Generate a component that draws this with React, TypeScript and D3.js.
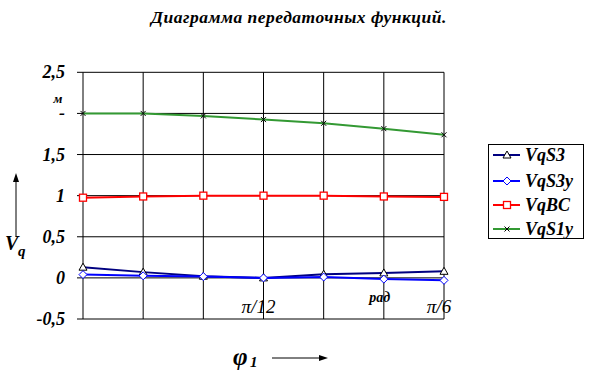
import React from "react";
import * as d3 from "d3";

const categories = [0, 1, 2, 3, 4, 5, 6];
const seriesNames = ["VqS3", "VqS3y", "VqBC", "VqS1y"];
const vqS3 = [0.13, 0.07, 0.02, 0.0, 0.045, 0.06, 0.08];
const vqS3y = [0.04, 0.025, 0.016, 0.0, 0.01, -0.015, -0.03];
const vqBC = [0.975, 0.99, 1.0, 1.0, 1.0, 0.99, 0.985];
const vqS1y = [2.0, 2.0, 1.97, 1.925, 1.88, 1.815, 1.74];
const yTicks = [-0.5, 0, 0.5, 1, 1.5, 2, 2.5];
const yTickLabels = ["-0,5", "0", "0,5", "1", "1,5", "-", "2,5"];
const xTickLabels = [
  { cat: 3, text: "π/12" },
  { cat: 5, text: "рад" },
  { cat: 6, text: "π/6" },
];

const W = 602;
const H = 373;
const left = 83;
const right = 444;
const top = 72.3;
const bottom = 319;

const fnt = (size: number, weight: string = "bold", ls: number = 0): React.CSSProperties => ({
  fontFamily: "Liberation Serif",
  fontWeight: weight as any,
  fontStyle: "italic",
  fontSize: size,
  letterSpacing: ls,
});

type Marker = "tri" | "dia" | "sq" | "x";
const series = [
  { name: seriesNames[0], values: vqS3, color: "#000080", marker: "tri" as Marker },
  { name: seriesNames[1], values: vqS3y, color: "#0000FF", marker: "dia" as Marker },
  { name: seriesNames[2], values: vqBC, color: "#FF0000", marker: "sq" as Marker },
  { name: seriesNames[3], values: vqS1y, color: "#339933", marker: "x" as Marker },
];

function MarkerShape({ type, x, y, color }: { type: Marker; x: number; y: number; color: string }) {
  if (type === "tri") {
    return <path d={`M${x},${y - 4}L${x + 4},${y + 3}L${x - 4},${y + 3}Z`} fill="#fff" stroke="#000" strokeWidth={1} />;
  }
  if (type === "dia") {
    return <path d={`M${x},${y - 4}L${x + 4},${y}L${x},${y + 4}L${x - 4},${y}Z`} fill="#fff" stroke={color} strokeWidth={1} />;
  }
  if (type === "sq") {
    return <rect x={x - 3.5} y={y - 3.5} width={7} height={7} fill="#fff" stroke={color} strokeWidth={1.3} />;
  }
  return (
    <g stroke="#000" strokeWidth={1}>
      <line x1={x - 2.5} y1={y - 2.5} x2={x + 2.5} y2={y + 2.5} />
      <line x1={x - 2.5} y1={y + 2.5} x2={x + 2.5} y2={y - 2.5} />
    </g>
  );
}

export default function App() {
  const x = d3.scalePoint<number>().domain(categories).range([left, right]);
  const y = d3.scaleLinear().domain([-0.5, 2.5]).range([bottom, top]);
  const line = (vals: number[]) =>
    d3.line<number>().x((_, i) => x(categories[i])!).y((v) => y(v))(vals) || "";

  const legendY = [155, 181, 205, 229];

  return (
    <svg width={W} height={H} style={{ position: "absolute", left: 0, top: 0, background: "#fff" }}>
      <rect width={W} height={H} fill="#fff" />
      <text x={299} y={23} textAnchor="middle" style={fnt(17.5, "bold", 0.5)}>
        Диаграмма  передаточных функций.
      </text>
      {yTicks.map((t) => (
        <line key={"h" + t} x1={left - 6} x2={right} y1={y(t)} y2={y(t)} stroke="#000" strokeWidth={1} />
      ))}
      {categories.map((c) => (
        <line key={"v" + c} x1={x(c)} x2={x(c)} y1={top} y2={bottom} stroke="#000" strokeWidth={1} />
      ))}
      {yTicks.map((t, i) => (
        <text key={"yl" + t} x={65} y={y(t) + 6} textAnchor="end" style={fnt(18)}>
          {yTickLabels[i]}
        </text>
      ))}
      <text x={58} y={y(2) - 10} textAnchor="middle" style={fnt(13)}>
        м
      </text>
      {xTickLabels.map((d) => (
        <text
          key={d.text}
          x={x(d.cat)! - (d.text === "π/6" ? 5 : d.text === "рад" ? 4 : 5)}
          y={d.text === "рад" ? 302 : 313}
          textAnchor="middle"
          style={fnt(d.text === "рад" ? 14 : 19, d.text === "рад" ? "bold" : "normal")}
        >
          {d.text}
        </text>
      ))}
      {series.map((s) => (
        <g key={s.name}>
          <path d={line(s.values)} fill="none" stroke={s.color} strokeWidth={2} />
          {s.values.map((v, i) => (
            <MarkerShape key={i} type={s.marker} x={x(categories[i])!} y={y(v)} color={s.color} />
          ))}
        </g>
      ))}
      <line x1={16} x2={16} y1={237} y2={180} stroke="#000" strokeWidth={1} />
      <path d="M16,173L13,182L19,182Z" fill="#000" />
      <text x={5} y={250} style={fnt(20)}>
        V
      </text>
      <text x={18} y={256} style={fnt(15)}>
        q
      </text>
      <text x={233} y={365} style={fnt(25)}>
        φ
      </text>
      <text x={250} y={367} style={fnt(15)}>
        1
      </text>
      <line x1={272} x2={322} y1={358} y2={358} stroke="#000" strokeWidth={1} />
      <path d="M328,358L319,355L319,361Z" fill="#000" />
      <rect x={488.5} y={144.5} width={95} height={94} fill="#fff" stroke="#000" strokeWidth={1} />
      {series.map((s, i) => (
        <g key={"lg" + s.name}>
          <line x1={493} x2={520} y1={legendY[i]} y2={legendY[i]} stroke={s.color} strokeWidth={2} />
          <MarkerShape type={s.marker} x={507} y={legendY[i]} color={s.color} />
          <text x={525} y={legendY[i] + 6} style={fnt(18)}>
            {s.name}
          </text>
        </g>
      ))}
    </svg>
  );
}
